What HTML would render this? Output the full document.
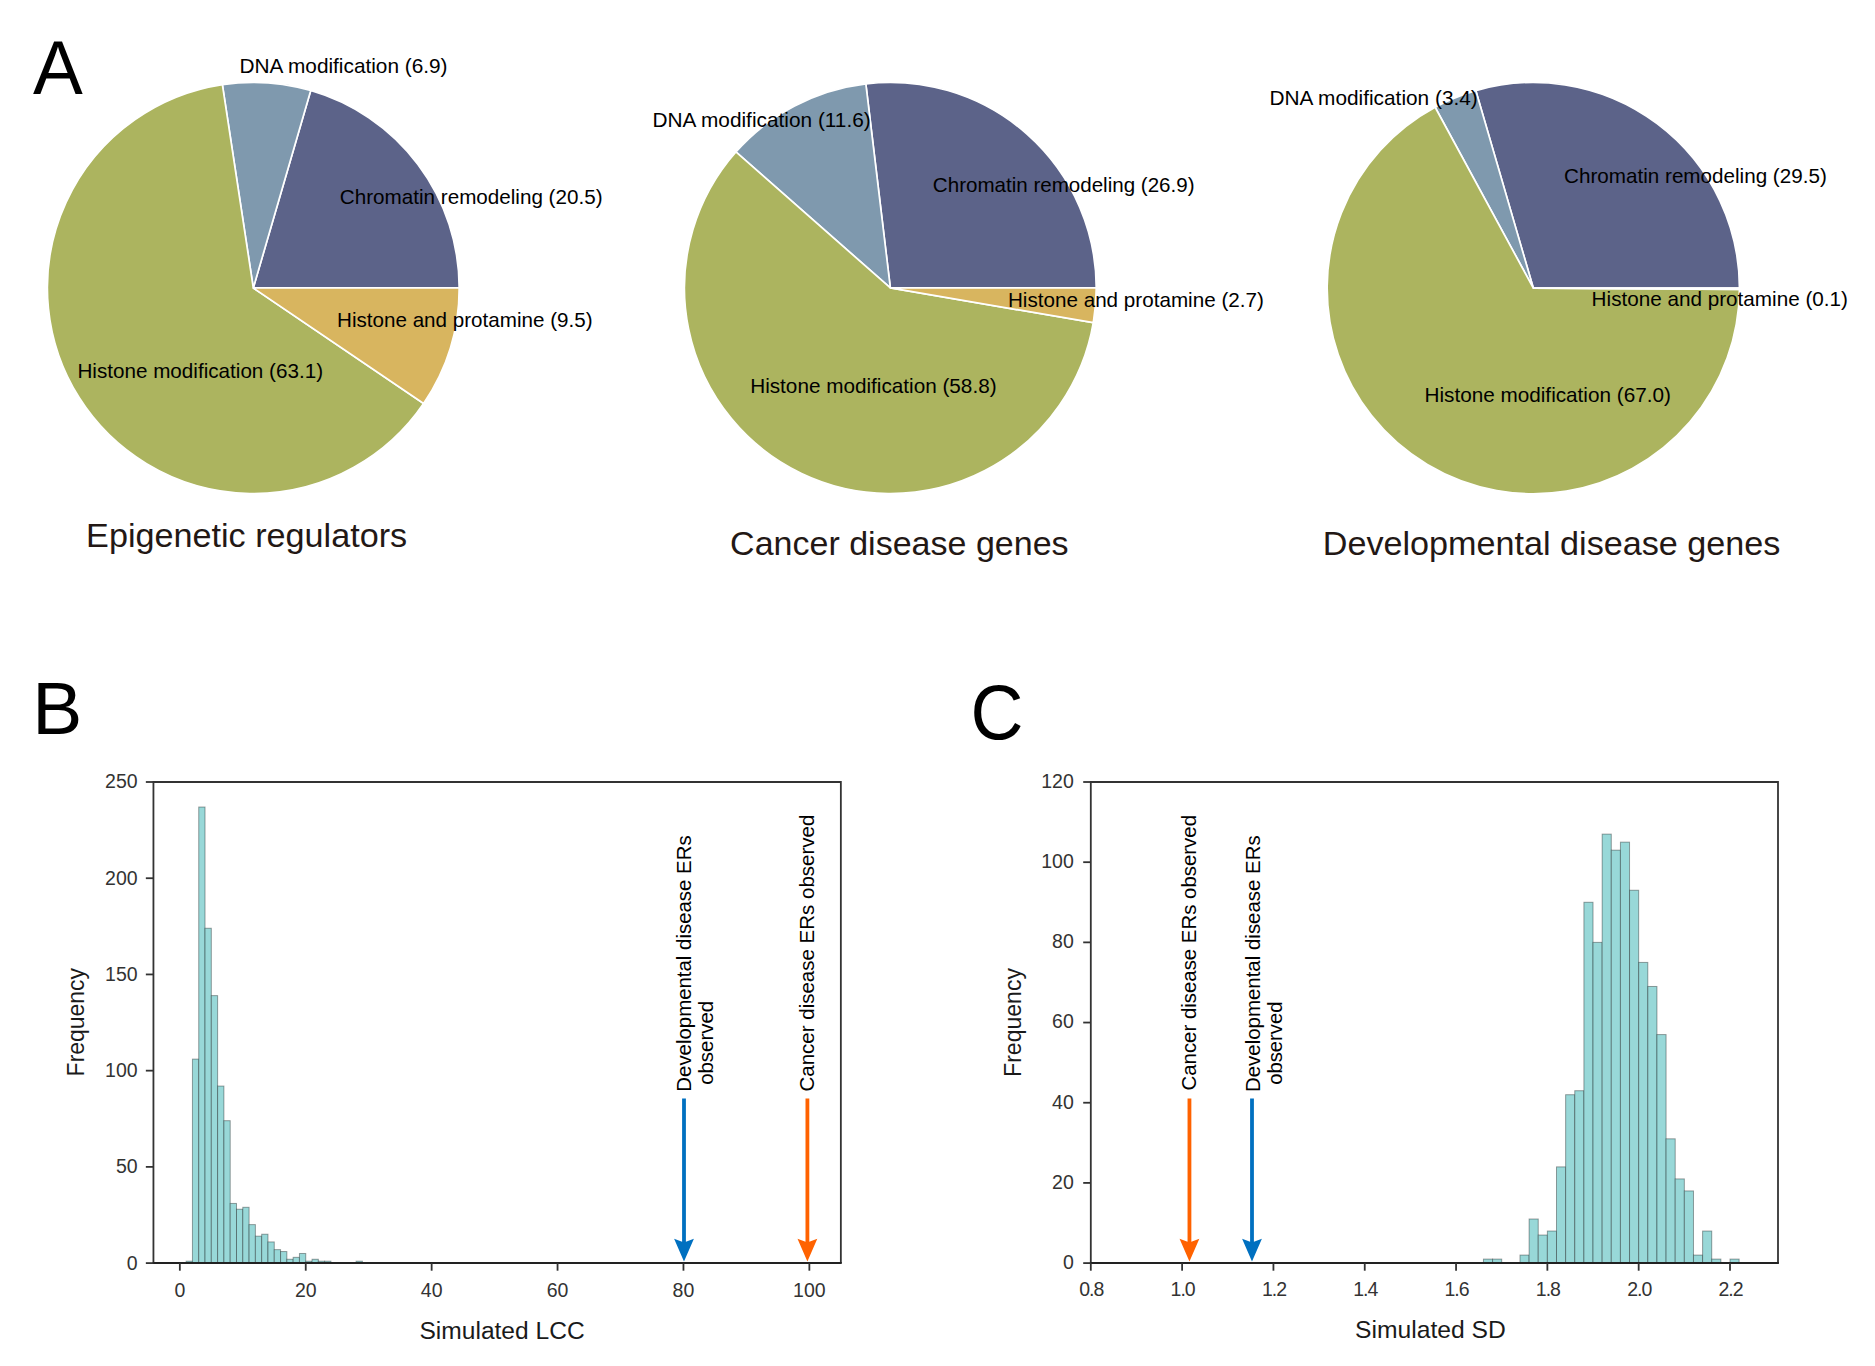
<!DOCTYPE html>
<html lang="en"><head><meta charset="utf-8"><title>Figure</title>
<style>
html,body{margin:0;padding:0;background:#fff;}
svg{display:block;}
svg text{font-family:"Liberation Sans",sans-serif;}
</style></head>
<body>
<svg width="1875" height="1366" viewBox="0 0 1875 1366">
<rect x="0" y="0" width="1875" height="1366" fill="#ffffff"/>
<path d="M253.30,287.95 L459.20,287.95 A205.90,205.60 0 0 0 310.74,90.51 Z" fill="#5C6389" stroke="#fff" stroke-width="1.7" stroke-linejoin="round"/>
<path d="M253.30,287.95 L310.74,90.51 A205.90,205.60 0 0 0 222.37,84.68 Z" fill="#7F99AE" stroke="#fff" stroke-width="1.7" stroke-linejoin="round"/>
<path d="M253.30,287.95 L222.37,84.68 A205.90,205.60 0 1 0 423.60,403.51 Z" fill="#ACB45F" stroke="#fff" stroke-width="1.7" stroke-linejoin="round"/>
<path d="M253.30,287.95 L423.60,403.51 A205.90,205.60 0 0 0 459.20,287.95 Z" fill="#D8B55F" stroke="#fff" stroke-width="1.7" stroke-linejoin="round"/>
<path d="M890.35,287.95 L1096.25,287.95 A205.90,205.60 0 0 0 865.83,83.81 Z" fill="#5C6389" stroke="#fff" stroke-width="1.7" stroke-linejoin="round"/>
<path d="M890.35,287.95 L865.83,83.81 A205.90,205.60 0 0 0 735.90,151.98 Z" fill="#7F99AE" stroke="#fff" stroke-width="1.7" stroke-linejoin="round"/>
<path d="M890.35,287.95 L735.90,151.98 A205.90,205.60 0 1 0 1093.29,322.66 Z" fill="#ACB45F" stroke="#fff" stroke-width="1.7" stroke-linejoin="round"/>
<path d="M890.35,287.95 L1093.29,322.66 A205.90,205.60 0 0 0 1096.25,287.95 Z" fill="#D8B55F" stroke="#fff" stroke-width="1.7" stroke-linejoin="round"/>
<path d="M1533.30,288.10 L1739.45,288.10 A206.15,205.70 0 0 0 1475.79,90.57 Z" fill="#5C6389" stroke="#fff" stroke-width="1.7" stroke-linejoin="round"/>
<path d="M1533.30,288.10 L1475.79,90.57 A206.15,205.70 0 0 0 1435.12,107.22 Z" fill="#7F99AE" stroke="#fff" stroke-width="1.7" stroke-linejoin="round"/>
<path d="M1533.30,288.10 L1435.12,107.22 A206.15,205.70 0 1 0 1739.45,289.39 Z" fill="#ACB45F" stroke="#fff" stroke-width="1.7" stroke-linejoin="round"/>
<path d="M1533.30,288.10 L1739.45,289.39 A206.15,205.70 0 0 0 1739.45,288.10 Z" fill="#D8B55F" stroke="#fff" stroke-width="1.7" stroke-linejoin="round"/>
<text transform="translate(239.49,72.85) scale(0.9953,1)" font-size="20.90" fill="#000">DNA modification (6.9)</text>
<text transform="translate(339.87,203.70) scale(0.9876,1)" font-size="20.90" fill="#000">Chromatin remodeling (20.5)</text>
<text transform="translate(337.01,327.00) scale(0.9872,1)" font-size="20.90" fill="#000">Histone and protamine (9.5)</text>
<text transform="translate(77.41,377.80) scale(0.9890,1)" font-size="20.90" fill="#000">Histone modification (63.1)</text>
<text transform="translate(652.39,126.50) scale(0.9965,1)" font-size="20.90" fill="#000">DNA modification (11.6)</text>
<text transform="translate(932.87,191.90) scale(0.9845,1)" font-size="20.90" fill="#000">Chromatin remodeling (26.9)</text>
<text transform="translate(1007.91,307.20) scale(0.9888,1)" font-size="20.90" fill="#000">Histone and protamine (2.7)</text>
<text transform="translate(750.20,392.70) scale(0.9919,1)" font-size="20.90" fill="#000">Histone modification (58.8)</text>
<text transform="translate(1269.49,104.90) scale(0.9962,1)" font-size="20.90" fill="#000">DNA modification (3.4)</text>
<text transform="translate(1564.07,182.70) scale(0.9880,1)" font-size="20.90" fill="#000">Chromatin remodeling (29.5)</text>
<text transform="translate(1591.60,306.10) scale(0.9904,1)" font-size="20.90" fill="#000">Histone and protamine (0.1)</text>
<text transform="translate(1424.50,401.90) scale(0.9919,1)" font-size="20.90" fill="#000">Histone modification (67.0)</text>
<text transform="translate(86.10,547.10) scale(1.0234,1)" font-size="33.40" fill="#231815">Epigenetic regulators</text>
<text transform="translate(730.10,554.80) scale(1.0188,1)" font-size="33.40" fill="#231815">Cancer disease genes</text>
<text transform="translate(1322.80,555.40) scale(1.0229,1)" font-size="33.40" fill="#231815">Developmental disease genes</text>
<text transform="translate(33.05,94.10) scale(0.9863,1)" font-size="75.70" fill="#000">A</text>
<text transform="translate(32.35,733.50) scale(1.0006,1)" font-size="75.00" fill="#000">B</text>
<text transform="translate(970.38,739.40) scale(0.9471,1)" font-size="77.40" fill="#000">C</text>
<g id="histB">
<rect x="186.14" y="1261.18" width="6.30" height="1.92" fill="#98D8D8" stroke="rgba(0,0,0,0.36)" stroke-width="1"/>
<rect x="192.43" y="1059.11" width="6.30" height="203.99" fill="#98D8D8" stroke="rgba(0,0,0,0.36)" stroke-width="1"/>
<rect x="198.73" y="807.02" width="6.30" height="456.08" fill="#98D8D8" stroke="rgba(0,0,0,0.36)" stroke-width="1"/>
<rect x="205.02" y="928.25" width="6.30" height="334.85" fill="#98D8D8" stroke="rgba(0,0,0,0.36)" stroke-width="1"/>
<rect x="211.32" y="995.61" width="6.30" height="267.49" fill="#98D8D8" stroke="rgba(0,0,0,0.36)" stroke-width="1"/>
<rect x="217.61" y="1086.06" width="6.30" height="177.04" fill="#98D8D8" stroke="rgba(0,0,0,0.36)" stroke-width="1"/>
<rect x="223.91" y="1120.69" width="6.30" height="142.41" fill="#98D8D8" stroke="rgba(0,0,0,0.36)" stroke-width="1"/>
<rect x="230.20" y="1203.44" width="6.30" height="59.66" fill="#98D8D8" stroke="rgba(0,0,0,0.36)" stroke-width="1"/>
<rect x="236.50" y="1209.22" width="6.30" height="53.88" fill="#98D8D8" stroke="rgba(0,0,0,0.36)" stroke-width="1"/>
<rect x="242.79" y="1207.29" width="6.30" height="55.81" fill="#98D8D8" stroke="rgba(0,0,0,0.36)" stroke-width="1"/>
<rect x="249.09" y="1224.61" width="6.30" height="38.49" fill="#98D8D8" stroke="rgba(0,0,0,0.36)" stroke-width="1"/>
<rect x="255.38" y="1236.16" width="6.30" height="26.94" fill="#98D8D8" stroke="rgba(0,0,0,0.36)" stroke-width="1"/>
<rect x="261.68" y="1234.23" width="6.30" height="28.87" fill="#98D8D8" stroke="rgba(0,0,0,0.36)" stroke-width="1"/>
<rect x="267.97" y="1241.93" width="6.30" height="21.17" fill="#98D8D8" stroke="rgba(0,0,0,0.36)" stroke-width="1"/>
<rect x="274.27" y="1249.63" width="6.30" height="13.47" fill="#98D8D8" stroke="rgba(0,0,0,0.36)" stroke-width="1"/>
<rect x="280.56" y="1251.55" width="6.30" height="11.55" fill="#98D8D8" stroke="rgba(0,0,0,0.36)" stroke-width="1"/>
<rect x="286.86" y="1259.25" width="6.30" height="3.85" fill="#98D8D8" stroke="rgba(0,0,0,0.36)" stroke-width="1"/>
<rect x="293.15" y="1257.33" width="6.30" height="5.77" fill="#98D8D8" stroke="rgba(0,0,0,0.36)" stroke-width="1"/>
<rect x="299.45" y="1253.48" width="6.30" height="9.62" fill="#98D8D8" stroke="rgba(0,0,0,0.36)" stroke-width="1"/>
<rect x="305.74" y="1261.18" width="6.30" height="1.92" fill="#98D8D8" stroke="rgba(0,0,0,0.36)" stroke-width="1"/>
<rect x="312.04" y="1259.25" width="6.30" height="3.85" fill="#98D8D8" stroke="rgba(0,0,0,0.36)" stroke-width="1"/>
<rect x="318.33" y="1261.18" width="6.30" height="1.92" fill="#98D8D8" stroke="rgba(0,0,0,0.36)" stroke-width="1"/>
<rect x="324.63" y="1261.18" width="6.30" height="1.92" fill="#98D8D8" stroke="rgba(0,0,0,0.36)" stroke-width="1"/>
<rect x="356.11" y="1261.18" width="6.30" height="1.92" fill="#98D8D8" stroke="rgba(0,0,0,0.36)" stroke-width="1"/>
</g>
<path d="M153.44,1263.1 L153.44,782.0 L840.85,782.0 L840.85,1263.1" fill="none" stroke="#333333" stroke-width="1.8" stroke-linejoin="miter"/>
<line x1="152.54" y1="1263.1" x2="841.75" y2="1263.1" stroke="#222222" stroke-width="2"/>
<line x1="179.84" y1="1263.1" x2="179.84" y2="1270.6999999999998" stroke="#333333" stroke-width="1.8"/>
<text x="179.84" y="1297.2" font-size="19.5" fill="#333333" text-anchor="middle">0</text>
<line x1="305.74" y1="1263.1" x2="305.74" y2="1270.6999999999998" stroke="#333333" stroke-width="1.8"/>
<text x="305.74" y="1297.2" font-size="19.5" fill="#333333" text-anchor="middle">20</text>
<line x1="431.65" y1="1263.1" x2="431.65" y2="1270.6999999999998" stroke="#333333" stroke-width="1.8"/>
<text x="431.65" y="1297.2" font-size="19.5" fill="#333333" text-anchor="middle">40</text>
<line x1="557.55" y1="1263.1" x2="557.55" y2="1270.6999999999998" stroke="#333333" stroke-width="1.8"/>
<text x="557.55" y="1297.2" font-size="19.5" fill="#333333" text-anchor="middle">60</text>
<line x1="683.46" y1="1263.1" x2="683.46" y2="1270.6999999999998" stroke="#333333" stroke-width="1.8"/>
<text x="683.46" y="1297.2" font-size="19.5" fill="#333333" text-anchor="middle">80</text>
<line x1="809.36" y1="1263.1" x2="809.36" y2="1270.6999999999998" stroke="#333333" stroke-width="1.8"/>
<text x="809.36" y="1297.2" font-size="19.5" fill="#333333" text-anchor="middle">100</text>
<line x1="145.84" y1="1263.10" x2="153.44" y2="1263.10" stroke="#333333" stroke-width="1.8"/>
<text x="137.64" y="1269.50" font-size="19.5" fill="#333333" text-anchor="end">0</text>
<line x1="145.84" y1="1166.88" x2="153.44" y2="1166.88" stroke="#333333" stroke-width="1.8"/>
<text x="137.64" y="1173.28" font-size="19.5" fill="#333333" text-anchor="end">50</text>
<line x1="145.84" y1="1070.66" x2="153.44" y2="1070.66" stroke="#333333" stroke-width="1.8"/>
<text x="137.64" y="1077.06" font-size="19.5" fill="#333333" text-anchor="end">100</text>
<line x1="145.84" y1="974.44" x2="153.44" y2="974.44" stroke="#333333" stroke-width="1.8"/>
<text x="137.64" y="980.84" font-size="19.5" fill="#333333" text-anchor="end">150</text>
<line x1="145.84" y1="878.22" x2="153.44" y2="878.22" stroke="#333333" stroke-width="1.8"/>
<text x="137.64" y="884.62" font-size="19.5" fill="#333333" text-anchor="end">200</text>
<line x1="145.84" y1="782.00" x2="153.44" y2="782.00" stroke="#333333" stroke-width="1.8"/>
<text x="137.64" y="788.40" font-size="19.5" fill="#333333" text-anchor="end">250</text>
<text transform="translate(419.49,1339.00) scale(1.0069,1)" font-size="24.40" fill="#1a1a1a">Simulated LCC</text>
<text transform="translate(83.50,1076.38) rotate(-90) scale(0.9405,1)" font-size="24.40" fill="#1a1a1a">Frequency</text>
<text transform="translate(690.80,1091.67) rotate(-90) scale(1.0055,1)" font-size="20.30" fill="#000">Developmental disease ERs</text>
<text transform="translate(712.60,1084.86) rotate(-90) scale(1.0078,1)" font-size="20.30" fill="#000">observed</text>
<text transform="translate(814.00,1091.53) rotate(-90) scale(1.0104,1)" font-size="20.30" fill="#000">Cancer disease ERs observed</text>
<path d="M682.10,1098.50 L685.90,1098.50 L685.90,1241.85 L693.90,1238.70 L684.00,1261.60 L674.10,1238.70 L682.10,1241.85 Z" fill="#0070C0"/>
<path d="M805.50,1098.50 L809.30,1098.50 L809.30,1241.85 L817.30,1238.70 L807.40,1261.60 L797.50,1238.70 L805.50,1241.85 Z" fill="#FF6200"/>
<g id="histC">
<rect x="1483.45" y="1259.09" width="9.13" height="4.01" fill="#98D8D8" stroke="rgba(0,0,0,0.36)" stroke-width="1"/>
<rect x="1492.58" y="1259.09" width="9.13" height="4.01" fill="#98D8D8" stroke="rgba(0,0,0,0.36)" stroke-width="1"/>
<rect x="1519.98" y="1255.08" width="9.13" height="8.02" fill="#98D8D8" stroke="rgba(0,0,0,0.36)" stroke-width="1"/>
<rect x="1529.11" y="1219.00" width="9.13" height="44.10" fill="#98D8D8" stroke="rgba(0,0,0,0.36)" stroke-width="1"/>
<rect x="1538.24" y="1235.04" width="9.13" height="28.06" fill="#98D8D8" stroke="rgba(0,0,0,0.36)" stroke-width="1"/>
<rect x="1547.37" y="1231.03" width="9.13" height="32.07" fill="#98D8D8" stroke="rgba(0,0,0,0.36)" stroke-width="1"/>
<rect x="1556.50" y="1166.88" width="9.13" height="96.22" fill="#98D8D8" stroke="rgba(0,0,0,0.36)" stroke-width="1"/>
<rect x="1565.63" y="1094.71" width="9.13" height="168.38" fill="#98D8D8" stroke="rgba(0,0,0,0.36)" stroke-width="1"/>
<rect x="1574.76" y="1090.71" width="9.13" height="172.39" fill="#98D8D8" stroke="rgba(0,0,0,0.36)" stroke-width="1"/>
<rect x="1583.90" y="902.27" width="9.13" height="360.83" fill="#98D8D8" stroke="rgba(0,0,0,0.36)" stroke-width="1"/>
<rect x="1593.03" y="942.37" width="9.13" height="320.73" fill="#98D8D8" stroke="rgba(0,0,0,0.36)" stroke-width="1"/>
<rect x="1602.16" y="834.12" width="9.13" height="428.98" fill="#98D8D8" stroke="rgba(0,0,0,0.36)" stroke-width="1"/>
<rect x="1611.29" y="850.16" width="9.13" height="412.94" fill="#98D8D8" stroke="rgba(0,0,0,0.36)" stroke-width="1"/>
<rect x="1620.42" y="842.14" width="9.13" height="420.96" fill="#98D8D8" stroke="rgba(0,0,0,0.36)" stroke-width="1"/>
<rect x="1629.55" y="890.25" width="9.13" height="372.85" fill="#98D8D8" stroke="rgba(0,0,0,0.36)" stroke-width="1"/>
<rect x="1638.68" y="962.41" width="9.13" height="300.69" fill="#98D8D8" stroke="rgba(0,0,0,0.36)" stroke-width="1"/>
<rect x="1647.82" y="986.47" width="9.13" height="276.63" fill="#98D8D8" stroke="rgba(0,0,0,0.36)" stroke-width="1"/>
<rect x="1656.95" y="1034.58" width="9.13" height="228.52" fill="#98D8D8" stroke="rgba(0,0,0,0.36)" stroke-width="1"/>
<rect x="1666.08" y="1138.82" width="9.13" height="124.28" fill="#98D8D8" stroke="rgba(0,0,0,0.36)" stroke-width="1"/>
<rect x="1675.21" y="1178.91" width="9.13" height="84.19" fill="#98D8D8" stroke="rgba(0,0,0,0.36)" stroke-width="1"/>
<rect x="1684.34" y="1190.93" width="9.13" height="72.16" fill="#98D8D8" stroke="rgba(0,0,0,0.36)" stroke-width="1"/>
<rect x="1693.47" y="1255.08" width="9.13" height="8.02" fill="#98D8D8" stroke="rgba(0,0,0,0.36)" stroke-width="1"/>
<rect x="1702.60" y="1231.03" width="9.13" height="32.07" fill="#98D8D8" stroke="rgba(0,0,0,0.36)" stroke-width="1"/>
<rect x="1711.74" y="1259.09" width="9.13" height="4.01" fill="#98D8D8" stroke="rgba(0,0,0,0.36)" stroke-width="1"/>
<rect x="1730.00" y="1259.09" width="9.13" height="4.01" fill="#98D8D8" stroke="rgba(0,0,0,0.36)" stroke-width="1"/>
</g>
<path d="M1090.8,1263.1 L1090.8,782.0 L1778.0,782.0 L1778.0,1263.1" fill="none" stroke="#333333" stroke-width="1.8" stroke-linejoin="miter"/>
<line x1="1089.8999999999999" y1="1263.1" x2="1778.9" y2="1263.1" stroke="#222222" stroke-width="2"/>
<line x1="1090.80" y1="1263.1" x2="1090.80" y2="1270.6999999999998" stroke="#333333" stroke-width="1.8"/>
<text x="1091.30" y="1296.3" font-size="19.5" fill="#333333" text-anchor="middle" style="letter-spacing:-1px">0.8</text>
<line x1="1182.11" y1="1263.1" x2="1182.11" y2="1270.6999999999998" stroke="#333333" stroke-width="1.8"/>
<text x="1182.61" y="1296.3" font-size="19.5" fill="#333333" text-anchor="middle" style="letter-spacing:-1px">1.0</text>
<line x1="1273.43" y1="1263.1" x2="1273.43" y2="1270.6999999999998" stroke="#333333" stroke-width="1.8"/>
<text x="1273.93" y="1296.3" font-size="19.5" fill="#333333" text-anchor="middle" style="letter-spacing:-1px">1.2</text>
<line x1="1364.74" y1="1263.1" x2="1364.74" y2="1270.6999999999998" stroke="#333333" stroke-width="1.8"/>
<text x="1365.24" y="1296.3" font-size="19.5" fill="#333333" text-anchor="middle" style="letter-spacing:-1px">1.4</text>
<line x1="1456.06" y1="1263.1" x2="1456.06" y2="1270.6999999999998" stroke="#333333" stroke-width="1.8"/>
<text x="1456.56" y="1296.3" font-size="19.5" fill="#333333" text-anchor="middle" style="letter-spacing:-1px">1.6</text>
<line x1="1547.37" y1="1263.1" x2="1547.37" y2="1270.6999999999998" stroke="#333333" stroke-width="1.8"/>
<text x="1547.87" y="1296.3" font-size="19.5" fill="#333333" text-anchor="middle" style="letter-spacing:-1px">1.8</text>
<line x1="1638.68" y1="1263.1" x2="1638.68" y2="1270.6999999999998" stroke="#333333" stroke-width="1.8"/>
<text x="1639.18" y="1296.3" font-size="19.5" fill="#333333" text-anchor="middle" style="letter-spacing:-1px">2.0</text>
<line x1="1730.00" y1="1263.1" x2="1730.00" y2="1270.6999999999998" stroke="#333333" stroke-width="1.8"/>
<text x="1730.50" y="1296.3" font-size="19.5" fill="#333333" text-anchor="middle" style="letter-spacing:-1px">2.2</text>
<line x1="1083.2" y1="1263.10" x2="1090.8" y2="1263.10" stroke="#333333" stroke-width="1.8"/>
<text x="1073.80" y="1269.00" font-size="19.5" fill="#333333" text-anchor="end">0</text>
<line x1="1083.2" y1="1182.92" x2="1090.8" y2="1182.92" stroke="#333333" stroke-width="1.8"/>
<text x="1073.80" y="1188.82" font-size="19.5" fill="#333333" text-anchor="end">20</text>
<line x1="1083.2" y1="1102.73" x2="1090.8" y2="1102.73" stroke="#333333" stroke-width="1.8"/>
<text x="1073.80" y="1108.63" font-size="19.5" fill="#333333" text-anchor="end">40</text>
<line x1="1083.2" y1="1022.55" x2="1090.8" y2="1022.55" stroke="#333333" stroke-width="1.8"/>
<text x="1073.80" y="1028.45" font-size="19.5" fill="#333333" text-anchor="end">60</text>
<line x1="1083.2" y1="942.37" x2="1090.8" y2="942.37" stroke="#333333" stroke-width="1.8"/>
<text x="1073.80" y="948.27" font-size="19.5" fill="#333333" text-anchor="end">80</text>
<line x1="1083.2" y1="862.18" x2="1090.8" y2="862.18" stroke="#333333" stroke-width="1.8"/>
<text x="1073.80" y="868.08" font-size="19.5" fill="#333333" text-anchor="end">100</text>
<line x1="1083.2" y1="782.00" x2="1090.8" y2="782.00" stroke="#333333" stroke-width="1.8"/>
<text x="1073.80" y="787.90" font-size="19.5" fill="#333333" text-anchor="end">120</text>
<text transform="translate(1355.09,1337.70) scale(1.0190,1)" font-size="24.20" fill="#1a1a1a">Simulated SD</text>
<text transform="translate(1021.00,1076.89) rotate(-90) scale(0.9449,1)" font-size="24.40" fill="#1a1a1a">Frequency</text>
<text transform="translate(1196.20,1090.52) rotate(-90) scale(1.0052,1)" font-size="20.30" fill="#000">Cancer disease ERs observed</text>
<text transform="translate(1259.70,1092.08) rotate(-90) scale(1.0083,1)" font-size="20.30" fill="#000">Developmental disease ERs</text>
<text transform="translate(1281.90,1084.85) rotate(-90) scale(0.9980,1)" font-size="20.30" fill="#000">observed</text>
<path d="M1187.55,1098.50 L1191.35,1098.50 L1191.35,1241.85 L1199.35,1238.70 L1189.45,1261.60 L1179.55,1238.70 L1187.55,1241.85 Z" fill="#FF6200"/>
<path d="M1250.10,1098.50 L1253.90,1098.50 L1253.90,1241.85 L1261.90,1238.70 L1252.00,1261.60 L1242.10,1238.70 L1250.10,1241.85 Z" fill="#0070C0"/>
</svg>
</body></html>
